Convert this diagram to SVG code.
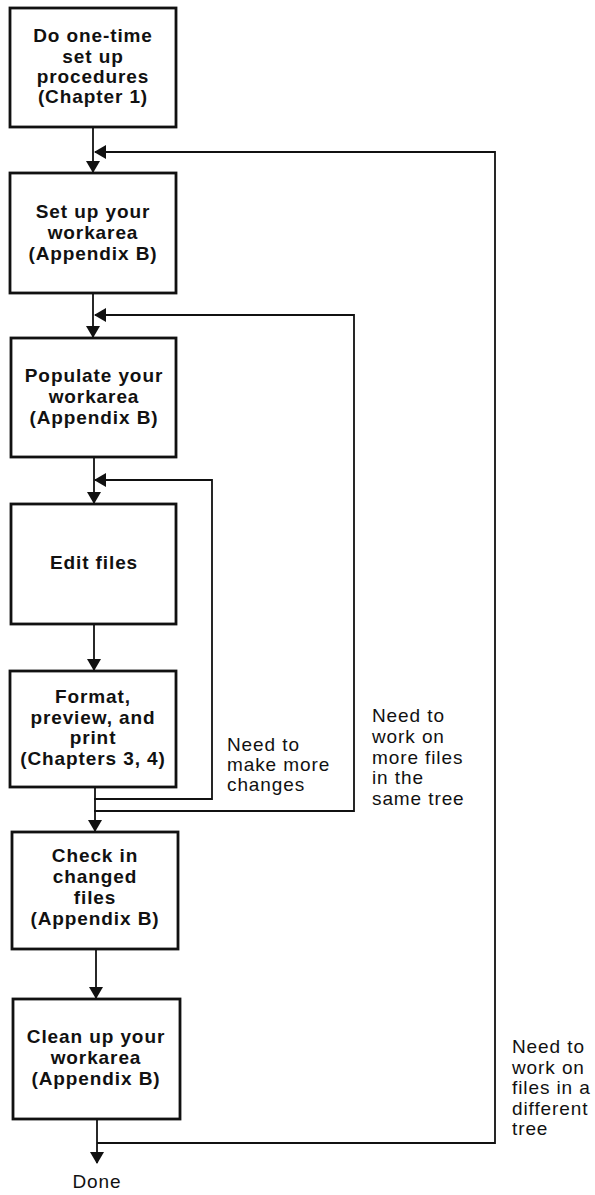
<svg xmlns="http://www.w3.org/2000/svg" width="595" height="1195" viewBox="0 0 595 1195">
<style>
.box{fill:#fff;stroke:#111;stroke-width:2.8}
.bt{font-family:"Liberation Sans",Arial,sans-serif;font-weight:bold;font-size:19px;letter-spacing:0.9px;text-anchor:middle;fill:#111}
.lt{font-family:"Liberation Sans",Arial,sans-serif;font-size:19px;letter-spacing:0.9px;fill:#111}
.cn{fill:none;stroke:#111;stroke-width:1.8}
</style>
<defs>
<marker id="ah" markerWidth="12" markerHeight="14" refX="11" refY="7" orient="auto" markerUnits="userSpaceOnUse"><path d="M0,0 L12,7 L0,14 Z" fill="#111"/></marker>
</defs>
<rect width="595" height="1195" fill="#fff"/>
<g id="connectors">
<path class="cn" d="M93,127 V172" marker-end="url(#ah)"/>
<path class="cn" d="M97,1143 H495 V152 H95" marker-end="url(#ah)"/>
<path class="cn" d="M93,293 V337" marker-end="url(#ah)"/>
<path class="cn" d="M94,811 H354 V315 H95" marker-end="url(#ah)"/>
<path class="cn" d="M94,457 V503" marker-end="url(#ah)"/>
<path class="cn" d="M94,799 H212 V480 H95" marker-end="url(#ah)"/>
<path class="cn" d="M94,624 V670" marker-end="url(#ah)"/>
<path class="cn" d="M95,787 V831" marker-end="url(#ah)"/>
<path class="cn" d="M96,949 V998" marker-end="url(#ah)"/>
<path class="cn" d="M97,1119 V1163" marker-end="url(#ah)"/>
</g>
<g id="n1"><rect class="box" x="10" y="8" width="166" height="119"/>
<text class="bt" x="93" y="42">Do one-time</text><text class="bt" x="93" y="62.5">set up</text><text class="bt" x="93" y="83">procedures</text><text class="bt" x="93" y="103">(Chapter 1)</text></g>
<g id="n2"><rect class="box" x="10" y="173" width="166" height="120"/>
<text class="bt" x="93" y="218">Set up your</text><text class="bt" x="93" y="238.5">workarea</text><text class="bt" x="93" y="259.5">(Appendix B)</text></g>
<g id="n3"><rect class="box" x="11" y="338" width="165" height="119"/>
<text class="bt" x="94" y="382">Populate your</text><text class="bt" x="94" y="403">workarea</text><text class="bt" x="94" y="424">(Appendix B)</text></g>
<g id="n4"><rect class="box" x="11" y="504" width="165" height="120"/>
<text class="bt" x="94" y="569">Edit files</text></g>
<g id="n5"><rect class="box" x="10" y="671" width="166" height="116"/>
<text class="bt" x="93" y="703">Format,</text><text class="bt" x="93" y="723.5">preview, and</text><text class="bt" x="93" y="744">print</text><text class="bt" x="93" y="764.5">(Chapters 3, 4)</text></g>
<g id="n6"><rect class="box" x="12" y="832" width="166" height="117"/>
<text class="bt" x="95" y="862">Check in</text><text class="bt" x="95" y="883">changed</text><text class="bt" x="95" y="904">files</text><text class="bt" x="95" y="925">(Appendix B)</text></g>
<g id="n7"><rect class="box" x="13" y="999" width="167" height="120"/>
<text class="bt" x="96" y="1043">Clean up your</text><text class="bt" x="96" y="1064">workarea</text><text class="bt" x="96" y="1085">(Appendix B)</text></g>
<g id="done"><text class="lt" x="97" y="1188" text-anchor="middle">Done</text></g>
<g id="labels">
<text class="lt" x="227"><tspan x="227" y="751">Need to</tspan><tspan x="227" y="771">make more</tspan><tspan x="227" y="791">changes</tspan></text>
<text class="lt" x="372"><tspan x="372" y="722">Need to</tspan><tspan x="372" y="743">work on</tspan><tspan x="372" y="763.5">more files</tspan><tspan x="372" y="784">in the</tspan><tspan x="372" y="805">same tree</tspan></text>
<text class="lt" x="512"><tspan x="512" y="1053">Need to</tspan><tspan x="512" y="1074">work on</tspan><tspan x="512" y="1094">files in a</tspan><tspan x="512" y="1115">different</tspan><tspan x="512" y="1135">tree</tspan></text>
</g>
</svg>
